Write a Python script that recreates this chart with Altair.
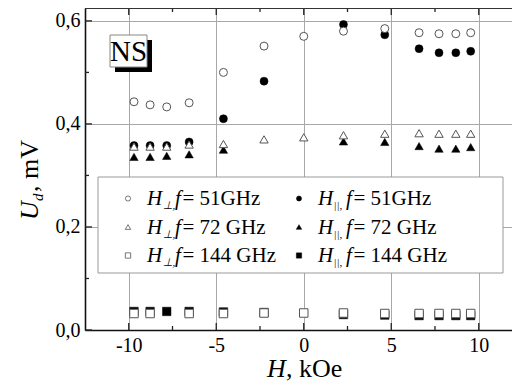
import altair as alt
import pandas as pd

# ---------------- data ----------------
x_all = [-9.70, -8.78, -7.83, -6.55, -4.59, -2.27, 0.0, 2.27, 4.63, 6.59, 7.73, 8.69, 9.54]
x_par51 = [-9.70, -8.78, -7.83, -6.55, -4.59, -2.27, 2.27, 4.63, 6.59, 7.73, 8.69, 9.54]
x_par72 = [-9.70, -8.78, -7.83, -6.55, -4.59, 2.27, 4.63, 6.59, 7.73, 8.69, 9.54]
x_perp144 = [-9.70, -8.78, -6.55, -4.59, -2.27, 0.0, 2.27, 4.63, 6.59, 7.73, 8.69, 9.54]
x_par144 = [-9.70, -8.78, -7.83, -6.55, -4.59, -2.27, 2.27, 4.63, 6.59, 7.73, 8.69, 9.54]

perp_51 = [0.443, 0.437, 0.433, 0.441, 0.500, 0.551, 0.570, 0.580, 0.585, 0.577, 0.575, 0.575, 0.577]
par_51 = [0.358, 0.358, 0.358, 0.365, 0.410, 0.483, 0.593, 0.573, 0.546, 0.538, 0.538, 0.541]
perp_72 = [0.356, 0.356, 0.356, 0.360, 0.361, 0.370, 0.374, 0.378, 0.381, 0.382, 0.381, 0.381, 0.381]
par_72 = [0.336, 0.336, 0.338, 0.341, 0.350, 0.366, 0.365, 0.357, 0.352, 0.352, 0.355]
perp_144 = [0.032, 0.032, 0.032, 0.032, 0.033, 0.033, 0.033, 0.032, 0.032, 0.032, 0.032, 0.032]
par_144 = [0.036, 0.036, 0.036, 0.036, 0.035, 0.034, 0.030, 0.029, 0.028, 0.028, 0.028, 0.028]

x_ticks_major = [-10, -5, 0, 5, 10]
x_ticks_minor = [-7.5, -2.5, 2.5, 7.5]
y_ticks_major = [0.0, 0.2, 0.4, 0.6]
y_ticks_minor = [0.1, 0.3, 0.5]

freq_labels = ["= 51GHz", "= 72 GHz", "= 144 GHz"]
orient_subs = ["\u22a5,", "||,"]
shapes = ["circle", "triangle-up", "square"]

# ---------------- layout ----------------
W, H = 427, 322
FONT = "Liberation Serif"

series = [
    (x_par51, par_51, "circle", True),
    (x_par72, par_72, "triangle-up", True),
    (x_par144, par_144, "square", True),
    (x_all, perp_51, "circle", False),
    (x_all, perp_72, "triangle-up", False),
    (x_perp144, perp_144, "square", False),
]
sizes = {"circle": 64, "triangle-up": 70, "square": 72}
rows = []
for xs_, ys_, shp, filled in series:
    for a, b in zip(xs_, ys_):
        rows.append({"H": a, "U": b, "shape": shp, "filled": filled, "size": sizes[shp]})
df = pd.DataFrame(rows)

xs = alt.Scale(domain=[-12.5, 11.9], nice=False, zero=False)
ys = alt.Scale(domain=[0, 0.625], nice=False, zero=False)
xax = alt.Axis(values=x_ticks_major, grid=True, gridColor="#a8a8a8", gridWidth=1,
               ticks=False, domainColor="#111111", domainWidth=1.6,
               labelFont=FONT, labelFontSize=20, labelColor="black", labelPadding=5,
               title=None,
               labelExpr="datum.value < 0 ? '-' + (-datum.value) : '' + datum.value")
yax = alt.Axis(values=y_ticks_major, grid=True, gridColor="#a8a8a8", gridWidth=1,
               ticks=False, domainColor="#111111", domainWidth=1.6,
               labelFont=FONT, labelFontSize=20, labelColor="black", labelPadding=5,
               title=None,
               labelExpr="replace(format(datum.value, '.1f'), '.', ',')")


def X(f):
    return alt.X(f, type="quantitative", scale=xs, axis=xax)


def Y(f):
    return alt.Y(f, type="quantitative", scale=ys, axis=yax)


one = pd.DataFrame({"a": [0]})

filled_layer = alt.Chart(df).transform_filter("datum.filled").mark_point(
    filled=True, fill="black", stroke="black", strokeWidth=0.5, opacity=1
).encode(x=X("H"), y=Y("U"),
         shape=alt.Shape("shape:N", scale=None),
         size=alt.Size("size:Q", scale=None))

open_layer = alt.Chart(df).transform_filter("!datum.filled").mark_point(
    filled=True, fill="white", stroke="#555555", strokeWidth=1, opacity=1
).encode(x=X("H"), y=Y("U"),
         shape=alt.Shape("shape:N", scale=None),
         size=alt.Size("size:Q", scale=None))


# inward ticks
def xticks(vals, length, top):
    d = pd.DataFrame({"v": vals})
    if top:
        yv, y2v = alt.value(0), alt.value(length)
    else:
        yv, y2v = alt.value(H), alt.value(H - length)
    return alt.Chart(d).mark_rule(color="#222222", strokeWidth=1.3).encode(x=X("v"), y=yv, y2=y2v)


def yticks(vals, length):
    d = pd.DataFrame({"v": vals})
    return alt.Chart(d).mark_rule(color="#222222", strokeWidth=1.3).encode(
        y=Y("v"), x=alt.value(0), x2=alt.value(length))


top_border = alt.Chart(one).mark_rule(color="#333333", strokeWidth=2).encode(
    x=alt.value(0), x2=alt.value(W), y=alt.value(0))

# NS box
ns_shadow = alt.Chart(one).mark_rect(color="black").encode(
    x=alt.value(30), x2=alt.value(67), y=alt.value(32), y2=alt.value(64))
ns_box = alt.Chart(one).mark_rect(fill="white", stroke="#888888", strokeWidth=1).encode(
    x=alt.value(25), x2=alt.value(62), y=alt.value(27), y2=alt.value(59))
ns_text = alt.Chart(one).mark_text(font=FONT, fontSize=29, color="black", align="center",
                                   baseline="alphabetic").encode(
    x=alt.value(43.5), y=alt.value(53), text=alt.value("NS"))

# legend
leg_box = alt.Chart(one).mark_rect(fill="white", stroke="#999999", strokeWidth=1).encode(
    x=alt.value(13), x2=alt.value(418), y=alt.value(169), y2=alt.value(265))

leg_rows = []
col_marker = [43, 214]
col_text = [62, 233]
row_base = [197, 225.5, 254]
leg_sizes = {"circle": 26, "triangle-up": 30, "square": 28}
for c in range(2):
    for r in range(3):
        leg_rows.append({
            "mx": col_marker[c], "my": row_base[r] - 6.5, "shape": shapes[r],
            "filled": c == 1, "size": leg_sizes[shapes[r]],
            "tx": col_text[c], "ty": row_base[r], "sub": orient_subs[c],
            "rest": freq_labels[r],
        })
leg = pd.DataFrame(leg_rows)

leg_mark_f = alt.Chart(leg).transform_filter("datum.filled").mark_point(
    filled=True, fill="black", stroke="black", strokeWidth=0.5, opacity=1).encode(
    x=alt.X("mx:Q", scale=None), y=alt.Y("my:Q", scale=None),
    shape=alt.Shape("shape:N", scale=None), size=alt.Size("size:Q", scale=None))
leg_mark_o = alt.Chart(leg).transform_filter("!datum.filled").mark_point(
    filled=True, fill="white", stroke="#555555", strokeWidth=0.8, opacity=1).encode(
    x=alt.X("mx:Q", scale=None), y=alt.Y("my:Q", scale=None),
    shape=alt.Shape("shape:N", scale=None), size=alt.Size("size:Q", scale=None))


def leg_piece(dx, dy, text_field=None, const=None, size=21, style="normal"):
    enc = dict(x=alt.X("px:Q", scale=None), y=alt.Y("py:Q", scale=None))
    if text_field:
        enc["text"] = alt.Text(text_field + ":N")
    else:
        enc["text"] = alt.value(const)
    return alt.Chart(leg).transform_calculate(
        px=f"datum.tx + {dx}", py=f"datum.ty + {dy}"
    ).mark_text(font=FONT, fontSize=size, fontStyle=style, color="black",
                align="left", baseline="alphabetic").encode(**enc)


leg_H = leg_piece(0, 0, const="H", style="italic")
leg_sub = leg_piece(15.5, 4, text_field="sub", size=11, style="italic")
leg_f = leg_piece(28, 0, const="f", style="italic")
leg_rest = leg_piece(35.5, 0, text_field="rest")

# axis titles as text pieces
xt_H = alt.Chart(one).mark_text(font=FONT, fontSize=26, fontStyle="italic", color="black",
                                align="left", baseline="alphabetic").encode(
    x=alt.value(182), y=alt.value(369), text=alt.value("H"))
xt_rest = alt.Chart(one).mark_text(font=FONT, fontSize=26, color="black",
                                   align="left", baseline="alphabetic").encode(
    x=alt.value(201), y=alt.value(369), text=alt.value(", kOe"))

yt_U = alt.Chart(one).mark_text(font=FONT, fontSize=26, fontStyle="italic", color="black",
                                align="left", baseline="alphabetic", angle=270).encode(
    x=alt.value(-47), y=alt.value(212), text=alt.value("U"))
yt_sub = alt.Chart(one).mark_text(font=FONT, fontSize=15, fontStyle="italic", color="black",
                                  align="left", baseline="alphabetic", angle=270).encode(
    x=alt.value(-42), y=alt.value(193), text=alt.value("d"))
yt_rest = alt.Chart(one).mark_text(font=FONT, fontSize=26, color="black",
                                   align="left", baseline="alphabetic", angle=270).encode(
    x=alt.value(-47), y=alt.value(184), text=alt.value(", mV"))

chart = alt.layer(
    filled_layer, open_layer,
    xticks(x_ticks_major, 7, True), xticks(x_ticks_minor, 4, True),
    xticks(x_ticks_major, 7, False), xticks(x_ticks_minor, 4, False),
    yticks(y_ticks_major, 7), yticks(y_ticks_minor, 4),
    top_border,
    ns_shadow, ns_box, ns_text,
    leg_box, leg_mark_f, leg_mark_o,
    leg_H, leg_sub, leg_f, leg_rest,
    xt_H, xt_rest, yt_U, yt_sub, yt_rest,
).properties(
    width=W, height=H,
    autosize=alt.AutoSizeParams(type="none"),
    padding={"left": 77, "top": 0, "right": 0, "bottom": 55},
).configure_view(stroke=None).configure(background="white")

chart.save("out.html", embed_options={"renderer": "svg", "actions": False})
